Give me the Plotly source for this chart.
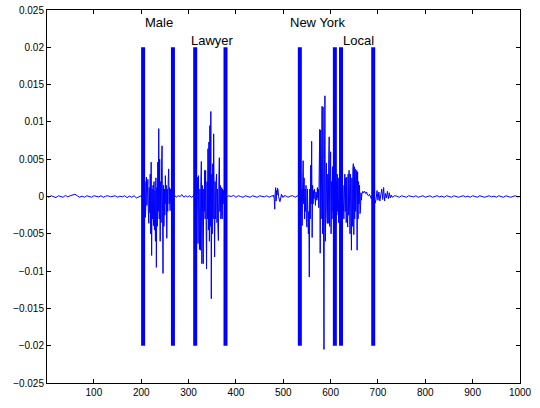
import plotly.graph_objects as go

# ---------------- data (waveform values in units of 1e-4) ----------------
SCALE = 1e-4

quiet0_start, quiet0_step = 0, 5
quiet0_vals = [0.5, -1, 1, 0, -1.5, 1, 0.5, -1, 1.5, -0.5, 1, 2, 3, 1, -1, 0.5, -1, 1, 0, -1,
               1, 0.5, -0.5, 1, -1, 0.5, 1, -0.5, 0, 1, -1, 0.5, -0.5, 1, -1.5, 0.5, -1, 1, -2, -1, 1]

male_start, male_step = 202, 1
male_vals = [-2, 1, 8, -15, 24, -10, 20, -28, 15, 26, -12, 18, 23, -20, -36, 12, -22, 30, -50, 46,
             -79, 10, -30, 15, -39, 20, -45, 8, -60, 25, -95, 12, -40, 46, -20, 91, -30, 50, -60, 20,
             -35, 40, 68, -20, -103, 15, -40, 10, -25, 28, -10, 15, -56, 10, -20, 20, 37, -10, 12, -19,
             10, -8, 6, -4, 3, -1, 1]

quiet1_start, quiet1_step = 270, 4
quiet1_vals = [2, -1, 1, 0, 2.5, -1, 1, -0.5, 1, -1, 0.5]

lawyer_start, lawyer_step = 312, 1
lawyer_vals = [3, -2, -10, 15, 26, -20, 10, 26, -63, 28, -30, -71, 10, -72, 20, 47, -90, 15, -40, -90,
               10, -20, 35, -30, 35, -50, -97, 20, -30, 64, -45, 73, -60, 95, -40, 114, -137, 30, -50, 44,
               -30, 84, -40, -81, 20, -30, 15, 30, -35, 10, -41, -59, 21, 52, -20, 15, -30, -25, 12, -30,
               10, -10, 8, 4, -6, 5, -2, 1, -1]

quiet2_start, quiet2_step = 385, 5
quiet2_vals = [1, 0, 1.5, -1, 1, 0, -1, 1, 0.5, -1, 1, 0, -1, 1, 0.5, -0.5, 1, -1, 0.5]

burst_start, burst_step = 478, 1
burst_vals = [1, 0, 2, -4, -17, 5, 12, -6, 8, 2, 11, 9, 0, -4, -6, -7, -5, 0, 3, 2, -1, 1, 0, -1, 1]

quiet3_start, quiet3_step = 505, 5
quiet3_vals = [1, -1, 0.5, 1, -1, 0.5]

big_start, big_step = 533, 1
big_vals = [2, -1, -10, 20, -15, 10, -25, -39, 20, 48, -10, 25, -30, 10, -20, 15, -35, -41, 10, -25,
            -50, -20, -108, 10, -30, 42, -10, 74, -55, 15, -10, 8, -3, 10, 2, -12, 6, 3, -5, 12,
            -2, 10, -15, 30, 90, -76, 89, -30, 60, 121, -50, 120, -40, -205, 50, 135, -60, 30, 45, -20,
            -36, 30, -36, 50, 80, -40, 30, 60, -50, 20, -30, 40, -20, 30, -45, 25, -30, 35, -40, 20,
            -25, 30, -20, 25, -35, 10, 30, -25, 15, -20, 25, 21, -30, 15, -10, -30, 20, 30, -20, 25,
            -35, 26, -20, -41, 30, -25, 35, -30, -50, 30, -20, -72, 25, -40, 35, 44, -51, 40, -30, 37,
            -20, 30, 35, -72, 33, -30, 20, -10, 15, -23, -19, 5, -5, 3, 6, 7]

tail_start, tail_step = 670, 2
tail_vals = [5, 7, 4, 6, 2, 1, 3, 0, -3, 2, -5, 4, -9, -4, 8, -5, 6, -6, 3, 10,
             -4, 12, -6, 4, -2, 7, -3, 5, -2, 2]

quiet4_start, quiet4_step = 730, 5
quiet4_vals = [-1, 1, 0.5, -1, 1, 0, -1, 1, 0.5, -0.5, 1, -1, 0, 1, -1, 0.5, 1, -1, 0, 1,
               -0.5, 0.5, -1, 1, 0, -1, 1, 0.5, -1, 0, 1, -0.5, 0.5, -1, 1, 0, -1, 1, 0.5, -1,
               0, 1, -0.5, 0.5, -1, 1, 0, -1, 1, 0.5, -1, 0, 1, -0.5, 0]

marker_x = [204, 267, 314, 378, 535, 609, 622, 690]
marker_low, marker_high = -0.02, 0.02

word_labels = ["Male", "Lawyer", "New York", "Local"]
label_x = [203, 300, 510, 621]
label_y = [0.0233, 0.0209, 0.0233, 0.0209]

x_ticks = [100, 200, 300, 400, 500, 600, 700, 800, 900, 1000]
y_ticks = [-0.025, -0.02, -0.015, -0.01, -0.005, 0, 0.005, 0.01, 0.015, 0.02, 0.025]
y_tick_text = ["\u22120.025", "\u22120.02", "\u22120.015", "\u22120.01", "\u22120.005", "0",
               "0.005", "0.01", "0.015", "0.02", "0.025"]

# ---------------- assemble ----------------
segments = [
    (quiet0_start, quiet0_step, quiet0_vals),
    (male_start, male_step, male_vals),
    (quiet1_start, quiet1_step, quiet1_vals),
    (lawyer_start, lawyer_step, lawyer_vals),
    (quiet2_start, quiet2_step, quiet2_vals),
    (burst_start, burst_step, burst_vals),
    (quiet3_start, quiet3_step, quiet3_vals),
    (big_start, big_step, big_vals),
    (tail_start, tail_step, tail_vals),
    (quiet4_start, quiet4_step, quiet4_vals),
]
wave_x, wave_y = [], []
for start, step, vals in segments:
    for i, v in enumerate(vals):
        wave_x.append(start + i * step)
        wave_y.append(v * SCALE)

bar_x, bar_y = [], []
for mx in marker_x:
    bar_x += [mx, mx, None]
    bar_y += [marker_low, marker_high, None]

BLUE = "#0000FF"
fig = go.Figure()
fig.add_trace(go.Scatter(x=wave_x, y=wave_y, mode="lines",
                         line=dict(color=BLUE, width=1), hoverinfo="skip"))
fig.add_trace(go.Scatter(x=bar_x, y=bar_y, mode="lines",
                         line=dict(color=BLUE, width=4), hoverinfo="skip"))

for t, lx, ly in zip(word_labels, label_x, label_y):
    fig.add_annotation(x=lx, y=ly, xref="x", yref="y", text=t, showarrow=False,
                       xanchor="left", yanchor="middle",
                       font=dict(family="Liberation Sans, Arial, sans-serif", size=13, color="black"))

axis_common = dict(showline=True, linecolor="black", linewidth=1, mirror="ticks",
                   ticks="inside", ticklen=4, tickcolor="black", showgrid=False, zeroline=False,
                   automargin=False,
                   tickfont=dict(family="Liberation Sans, Arial, sans-serif", size=10, color="black"))

fig.update_layout(
    width=540, height=408,
    margin=dict(l=47, r=20, t=10, b=25),
    paper_bgcolor="white", plot_bgcolor="white",
    showlegend=False,
    xaxis=dict(range=[1, 1000], tickvals=x_ticks, **axis_common),
    yaxis=dict(range=[-0.025, 0.025], tickvals=y_ticks, ticktext=y_tick_text, **axis_common),
)

fig.write_html("out.html", post_script="document.body.style.margin='0';",
               config={"displayModeBar": False})
